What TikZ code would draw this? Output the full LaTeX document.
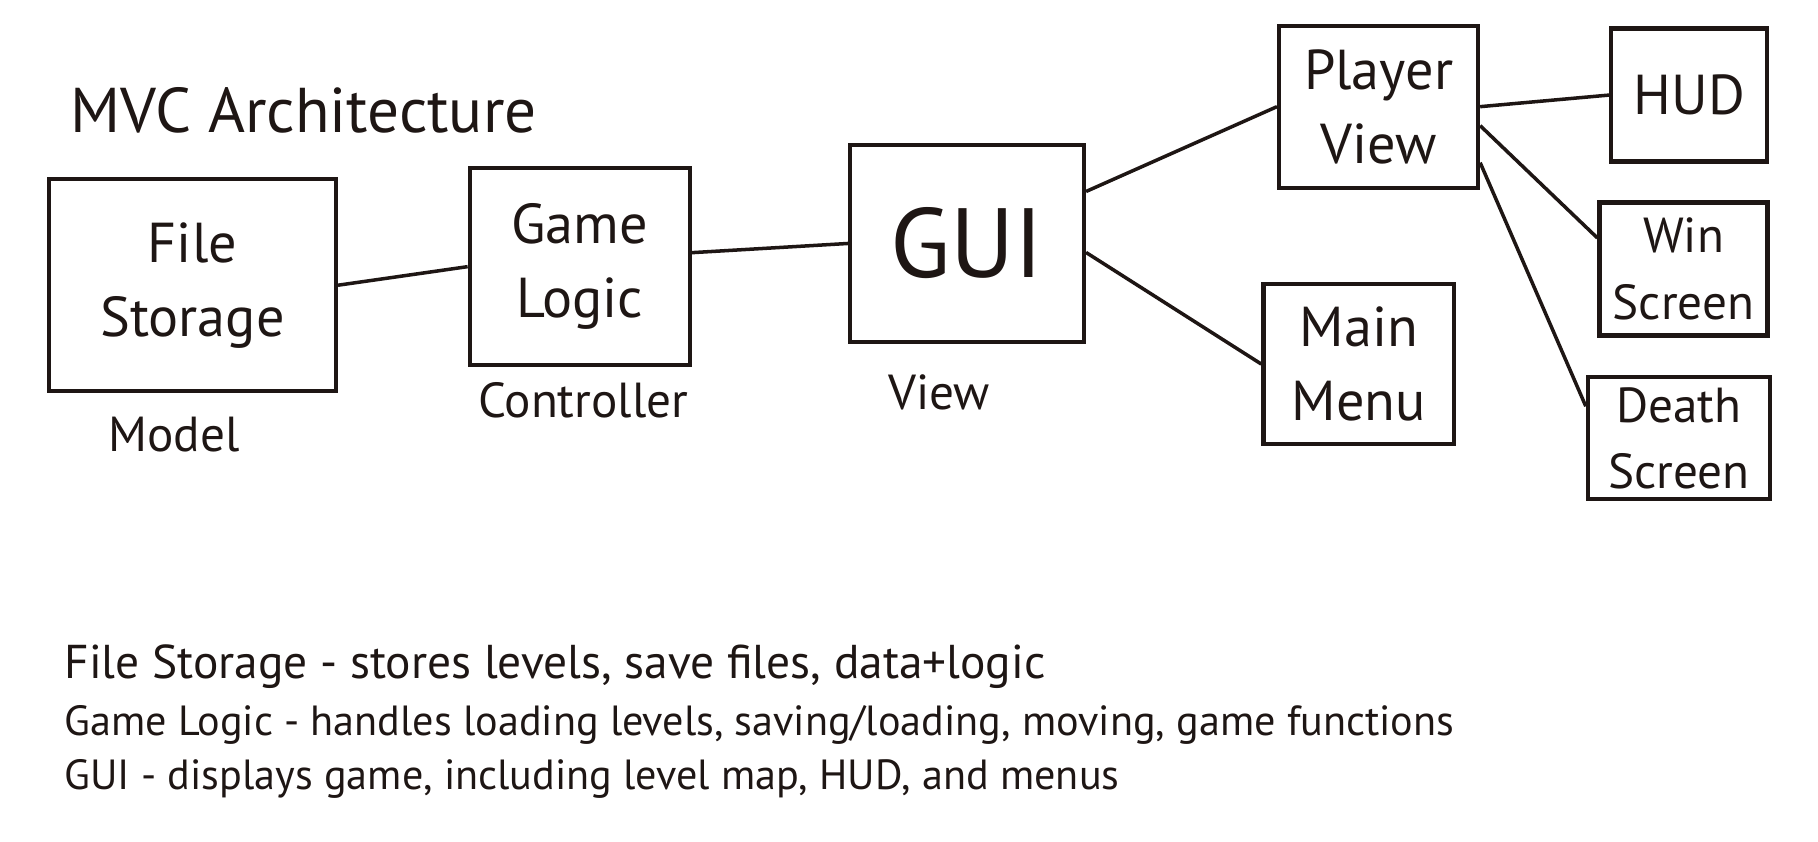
\documentclass[tikz,border=0pt]{standalone}
\usepackage{fontspec}
\setmainfont{PT Sans}
\usetikzlibrary{positioning}
\definecolor{ink}{RGB}{30,22,20}
\tikzset{
  box/.style={draw=ink, line width=1.2pt, align=center, text=ink, inner sep=2pt,
    font=\fontsize{16}{21}\selectfont},
  tag/.style={text=ink, font=\fontsize{14}{16}\selectfont},
  note/.style={text=ink, anchor=west, font=\fontsize{12}{14}\selectfont},
  wire/.style={draw=ink, line width=1pt}
}

\begin{document}
\begin{tikzpicture}[x=0.01159cm,y=-0.01159cm]
\useasboundingbox (0,0) rectangle (1568,726);
\node[tag, font=\fontsize{18}{20}\selectfont] (title) at (262,95) {MVC Architecture};
\node[box, minimum width=2.87cm, minimum height=2.12cm] (storage) at (166,246) {File\\Storage};
\node[box, minimum width=2.20cm, minimum height=1.97cm] (logic) at (500,230) {Game\\Logic};
\node[box, minimum width=2.34cm, minimum height=1.97cm, font=\fontsize{28}{32}\selectfont] (gui) at (834,210) {GUI};
\node[box, minimum width=1.99cm, minimum height=1.62cm] (player) at (1189,92) {Player\\View};
\node[box, minimum width=1.56cm, minimum height=1.33cm] (hud) at (1457,82) {HUD};
\node[box, minimum width=1.68cm, minimum height=1.33cm, font=\fontsize{14}{19}\selectfont] (win) at (1452,232) {Win\\Screen};
\node[box, minimum width=1.91cm, minimum height=1.60cm] (menu) at (1172,314) {Main\\Menu};
\node[box, minimum width=1.82cm, minimum height=1.22cm, font=\fontsize{14}{19}\selectfont] (death) at (1448,378) {Death\\Screen};
\node[tag] (model) at (150,375) {Model};
\node[tag] (controller) at (503,345) {Controller};
\node[tag] (view) at (810,338) {View};
\draw[wire] (storage.east) -- (logic.west);
\draw[wire] ([yshift=0.14cm]logic.east) -- (gui.west);
\draw[wire] ([yshift=0.52cm]gui.east) -- (player.west);
\draw[wire] ([yshift=-0.09cm]gui.east) -- (menu.west);
\draw[wire] (player.east) -- (hud.west);
\draw[wire] ([yshift=-0.19cm]player.east) -- ([yshift=0.31cm]win.west);
\draw[wire] ([yshift=-0.56cm]player.east) -- ([yshift=0.32cm]death.west);
\node[note, font=\fontsize{13.5}{15}\selectfont] (fileline) at (45,575) {File Storage - stores levels, save files, data+logic};
\node[note] (logicline) at (45,625) {Game Logic - handles loading levels, saving/loading, moving, game functions};
\node[note] (guiline) at (45,672) {GUI - displays game, including level map, HUD, and menus};
\end{tikzpicture}
\end{document}
